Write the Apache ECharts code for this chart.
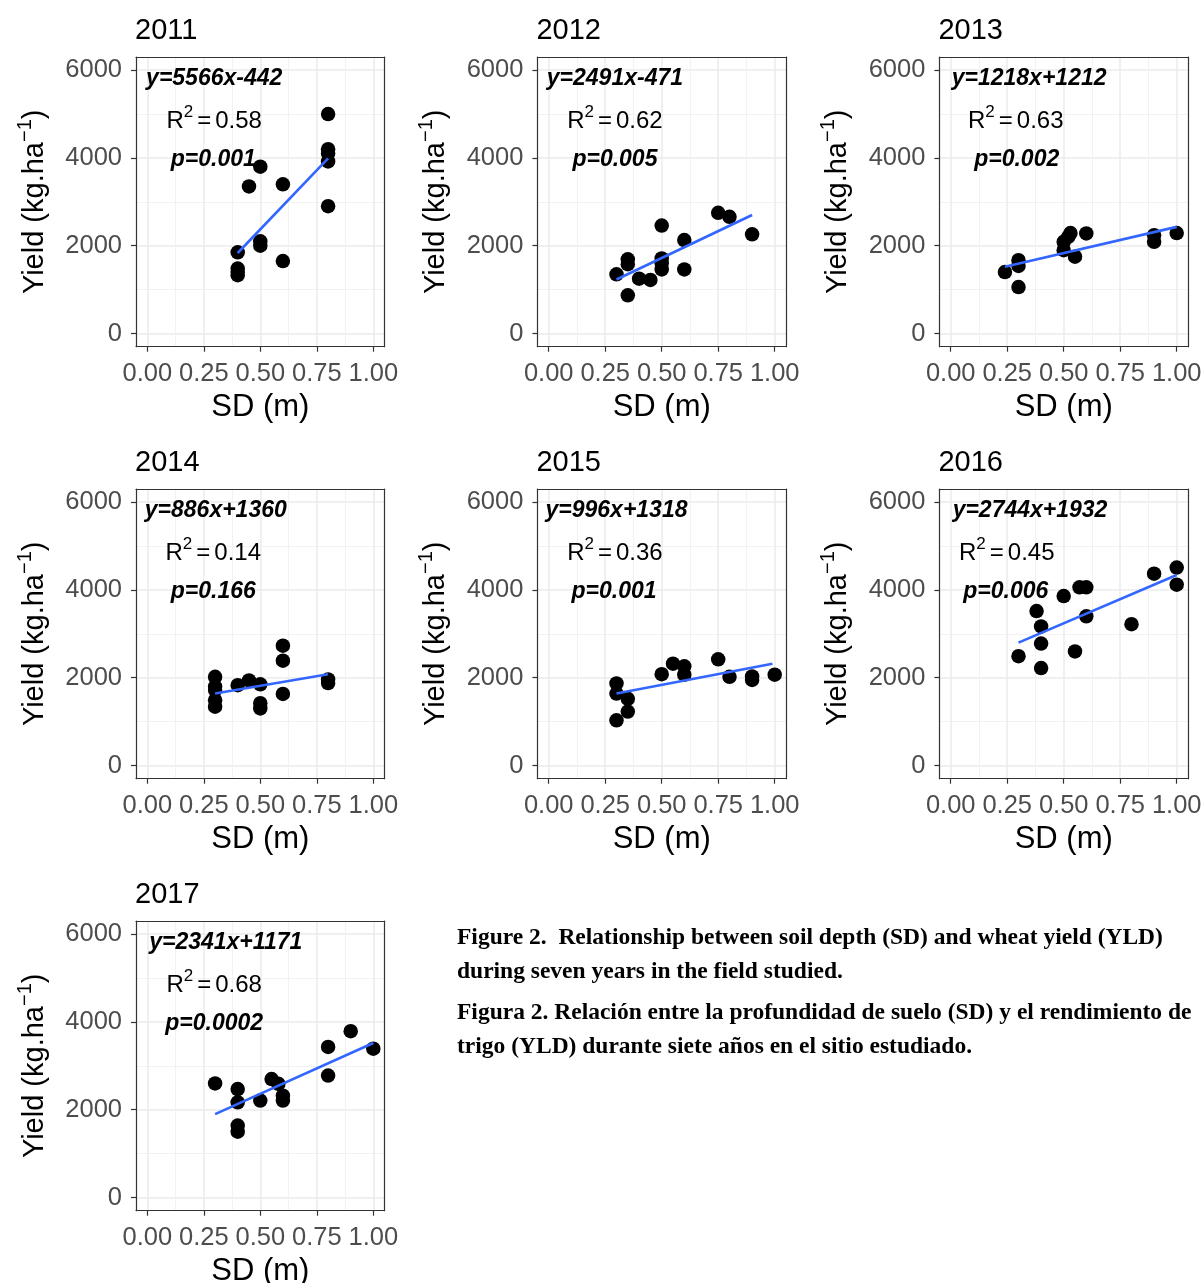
<!DOCTYPE html>
<html><head><meta charset="utf-8">
<script src="https://cdn.jsdelivr.net/npm/echarts@6/dist/echarts.min.js"></script>
<style>html,body{margin:0;padding:0;background:#fff}#c{width:1201px;height:1283px}</style>
</head><body><div id="c"></div>
<script>
// ---------- data ----------
const years = ['2011','2012','2013','2014','2015','2016','2017'];

const sd2011  = [0.4,0.4,0.4,0.4,0.45,0.5,0.5,0.5,0.6,0.6,0.8,0.8,0.8,0.8,0.8];
const yld2011 = [1850,1480,1400,1330,3350,3800,2100,2000,3400,1650,5000,4200,4100,3920,2900];

const sd2012  = [0.3,0.35,0.35,0.35,0.4,0.45,0.5,0.5,0.5,0.5,0.6,0.6,0.75,0.8,0.9];
const yld2012 = [1350,1690,1580,870,1250,1220,2460,1710,1600,1460,2130,1460,2750,2660,2260];

const sd2013  = [0.24,0.3,0.3,0.3,0.5,0.5,0.52,0.53,0.55,0.6,0.9,0.9,1.0];
const yld2013 = [1400,1670,1540,1060,2090,1900,2200,2290,1750,2280,2240,2090,2290];

const sd2014  = [0.3,0.3,0.3,0.3,0.3,0.4,0.45,0.5,0.5,0.5,0.6,0.6,0.6,0.8,0.8];
const yld2014 = [2020,1800,1720,1490,1340,1830,1940,1850,1420,1300,2730,2390,1630,1960,1880];

const sd2015  = [0.3,0.3,0.3,0.35,0.35,0.5,0.55,0.6,0.6,0.75,0.8,0.9,0.9,1.0];
const yld2015 = [1870,1640,1030,1520,1230,2080,2320,2260,2070,2420,2020,2030,1950,2070];

const sd2016  = [0.3,0.38,0.4,0.4,0.4,0.5,0.57,0.6,0.6,0.55,0.8,0.9,1.0,1.0];
const yld2016 = [2490,3520,3170,2780,2220,3860,4060,4060,3400,2600,3220,4370,4510,4120];

const sd2017  = [0.3,0.4,0.4,0.4,0.4,0.5,0.55,0.58,0.6,0.6,0.8,0.8,0.9,1.0];
const yld2017 = [2600,2470,2170,1640,1500,2210,2700,2590,2320,2210,3430,2780,3790,3390];

const sdAll  = [sd2011, sd2012, sd2013, sd2014, sd2015, sd2016, sd2017];
const yldAll = [yld2011, yld2012, yld2013, yld2014, yld2015, yld2016, yld2017];

// fitted line end points (as drawn)
const fitSD  = [[0.4,0.8],[0.3,0.9],[0.24,1.0],[0.3,0.8],[0.3,0.99],[0.3,1.0],[0.3,1.0]];
const fitYLD = [[1835,3990],[1230,2700],[1520,2430],[1640,2080],[1640,2320],[2800,4340],[1900,3520]];

const eqText = ['y=5566x-442','y=2491x-471','y=1218x+1212','y=886x+1360','y=996x+1318','y=2744x+1932','y=2341x+1171'];
const r2Text = ['0.58','0.62','0.63','0.14','0.36','0.45','0.68'];
const pText  = ['p=0.001','p=0.005','p=0.002','p=0.166','p=0.001','p=0.006','p=0.0002'];

const xTicks = [0, 0.25, 0.5, 0.75, 1];
const xMinor = [0.125, 0.375, 0.625, 0.875];
const yTicks = [0, 2000, 4000, 6000];
const yMinor = [1000, 3000, 5000];

const captionLines = [
  'Figure 2.  Relationship between soil depth (SD) and wheat yield (YLD)',
  'during seven years in the field studied.',
  'Figura 2. Relación entre la profundidad de suelo (SD) y el rendimiento de',
  'trigo (YLD) durante siete años en el sitio estudiado.'
];

// ---------- layout ----------
const annoX = {
  eq: [0.296,0.293,0.347,0.303,0.300,0.351,0.347],
  r2: [0.296,0.293,0.288,0.292,0.293,0.248,0.296],
  p:  [0.292,0.293,0.292,0.292,0.289,0.244,0.296]
};
const annoY = {eq: 5800, r2: 4830, p: 3970};

const colLeft = [136, 537.4, 939.4];
const rowTop = [57, 489, 921];
const gridW = 248.6, gridH = 289.7;
const F = '"Liberation Sans", Arial, sans-serif';
const BORDER = '#333333';

const grids = [], xAxes = [], yAxes = [], series = [], graphics = [];

years.forEach((yr, i) => {
  const col = i % 3, row = Math.floor(i / 3);
  grids.push({left: colLeft[col], top: rowTop[row], width: gridW, height: gridH,
              outerBoundsMode: 'none', containLabel: false, show: false});
  xAxes.push({
    gridIndex: i, type: 'value', min: -0.05, max: 1.05, position: 'bottom',
    axisLine: {show: true, onZero: false, lineStyle: {color: BORDER, width: 1.2}},
    axisTick: {show: true, length: 5, customValues: xTicks, lineStyle: {color: BORDER, width: 1.2}},
    axisLabel: {show: true, customValues: xTicks, formatter: v => v.toFixed(2),
                fontSize: 25.5, fontFamily: F, color: '#4D4D4D', margin: 14, lineHeight: 26},
    splitLine: {show: true, lineStyle: {color: '#EBEBEB', width: 1.5}},
    name: 'SD (m)', nameLocation: 'middle', nameGap: 44,
    nameTextStyle: {fontSize: 31, fontFamily: F, color: '#000', lineHeight: 34}
  });
  xAxes.push({
    gridIndex: i, type: 'value', min: -0.05, max: 1.05, position: 'top',
    axisLine: {show: true, onZero: false, lineStyle: {color: BORDER, width: 1.2}},
    axisTick: {show: false, customValues: xMinor},
    axisLabel: {show: false},
    splitLine: {show: true, lineStyle: {color: '#F2F2F2', width: 1}}
  });
  yAxes.push({
    gridIndex: i, type: 'value', min: -300, max: 6300, position: 'left',
    axisLine: {show: true, onZero: false, lineStyle: {color: BORDER, width: 1.2}},
    axisTick: {show: true, length: 5, customValues: yTicks, lineStyle: {color: BORDER, width: 1.2}},
    axisLabel: {show: true, customValues: yTicks, formatter: v => String(v),
                fontSize: 25.5, fontFamily: F, color: '#4D4D4D', margin: 14, padding: [4, 0, 0, 0]},
    splitLine: {show: true, lineStyle: {color: '#EBEBEB', width: 1.5}},
    name: '{a|Yield (kg.ha}{s|\u22121}{a|)}', nameLocation: 'middle', nameGap: 81, nameRotate: 90,
    nameTextStyle: {
      rich: {
        a: {fontSize: 29, fontFamily: F, color: '#000', lineHeight: 40},
        s: {fontSize: 20, fontFamily: F, color: '#000', lineHeight: 20, verticalAlign: 'top'}
      }
    }
  });
  yAxes.push({
    gridIndex: i, type: 'value', min: -300, max: 6300, position: 'right',
    axisLine: {show: true, onZero: false, lineStyle: {color: BORDER, width: 1.2}},
    axisTick: {show: false, customValues: yMinor},
    axisLabel: {show: false},
    splitLine: {show: true, lineStyle: {color: '#F2F2F2', width: 1}}
  });

  const xi = 2 * i, yi = 2 * i;
  series.push({
    type: 'scatter', xAxisIndex: xi, yAxisIndex: yi, symbol: 'circle', symbolSize: 14.5,
    itemStyle: {color: '#000', opacity: 1}, silent: true, z: 2,
    data: sdAll[i].map((x, k) => [x, yldAll[i][k]])
  });
  series.push({
    type: 'line', xAxisIndex: xi, yAxisIndex: yi, symbol: 'none', silent: true, z: 3,
    lineStyle: {color: '#3366FF', width: 2.6},
    data: fitSD[i].map((x, k) => [x, fitYLD[i][k]])
  });
  const bi = {show: true, position: 'inside', fontSize: 23, fontFamily: F, fontStyle: 'italic',
              fontWeight: 'bold', color: '#000', opacity: 1};
  series.push({
    type: 'scatter', xAxisIndex: xi, yAxisIndex: yi, symbolSize: 0, silent: true, z: 5,
    itemStyle: {opacity: 1},
    data: [
      {value: [annoX.eq[i], annoY.eq], label: Object.assign({}, bi, {formatter: eqText[i]})},
      {value: [annoX.r2[i], annoY.r2], label: {show: true, position: 'inside', opacity: 1,
        formatter: '{r|R}{s|2}{e|=}{r|0.' + r2Text[i].slice(2) + '}',
        rich: {
          r: {fontSize: 24, fontFamily: F, color: '#000', lineHeight: 36},
          e: {fontSize: 24, fontFamily: F, color: '#000', lineHeight: 36, padding: [0, 4, 0, 4]},
          s: {fontSize: 17, fontFamily: F, color: '#000', lineHeight: 17, verticalAlign: 'top'}
        }}},
      {value: [annoX.p[i], annoY.p], label: Object.assign({}, bi, {formatter: pText[i]})}
    ]
  });

  graphics.push({
    type: 'text', left: colLeft[col] - 1, top: rowTop[row] - 41,
    style: {text: yr, font: '29px "Liberation Sans", Arial, sans-serif', fill: '#000'}
  });
});

const capY = [941, 975, 1016, 1050];
captionLines.forEach((t, k) => {
  graphics.push({
    type: 'text', left: 457, top: capY[k] - 15,
    style: {text: t, font: 'bold 23.5px "Liberation Serif", "Times New Roman", serif', fill: '#000'}
  });
});

const chart = echarts.init(document.getElementById('c'), null, {renderer: 'canvas'});
chart.setOption({
  animation: false,
  backgroundColor: '#fff',
  grid: grids, xAxis: xAxes, yAxis: yAxes, series: series,
  graphic: {elements: graphics}
});
</script></body></html>
